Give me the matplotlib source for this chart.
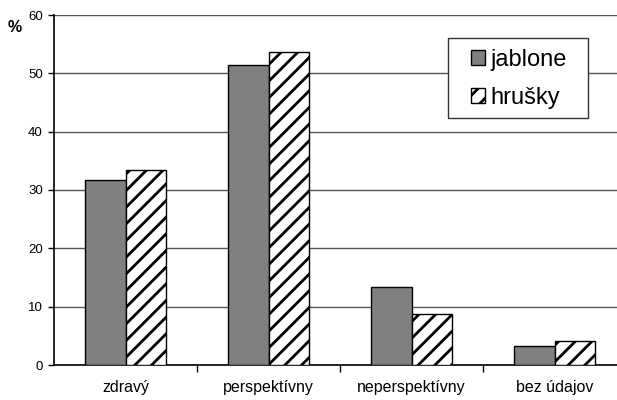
import matplotlib
matplotlib.use('Agg')
import matplotlib.pyplot as plt
from matplotlib.patches import Rectangle
import numpy as np

categories = ['zdravý', 'perspektívny', 'neperspektívny', 'bez údajov']
jablone = [31.8, 51.4, 13.4, 3.3]
hrusky = [33.4, 53.7, 8.7, 4.1]

plt.rcParams['font.family'] = ['Liberation Sans', 'DejaVu Sans']
plt.rcParams['hatch.linewidth'] = 2.0

W, H = 617, 400
fig = plt.figure(figsize=(W / 100, H / 100), dpi=100)
# axes run slightly past the right edge, so no right frame is visible
ax = fig.add_axes([54 / W, 35 / H, 572 / W, 350 / H])

x = np.arange(len(categories))
w = 1 / 3.5
ax.bar(x - w / 2, jablone, w, color='#808080', edgecolor='black', linewidth=1, label='jablone', zorder=3)
ax.bar(x + w / 2, hrusky, w, color='white', edgecolor='black', linewidth=1, hatch='//', label='hrušky', zorder=3)

ax.set_xlim(-0.5, len(categories) - 0.5)
ax.set_ylim(0, 60)
ax.set_yticks(range(0, 61, 10))
ax.yaxis.grid(True, color='#555555', linewidth=1, zorder=0)

# category labels between tick marks
ax.set_xticks(x)
ax.set_xticklabels(categories, fontsize=11.5)
ax.tick_params(axis='x', length=0, pad=11)
ax.set_xticks(np.arange(0.5, len(categories) - 0.5, 1), minor=True)
ax.tick_params(axis='x', which='minor', length=5, direction='out', width=1)
ax.tick_params(axis='y', length=4, direction='out', labelsize=9.5, width=1, pad=4)

for side in ['top', 'right']:
    ax.spines[side].set_visible(False)
ax.spines['left'].set_linewidth(1.2)
ax.spines['bottom'].set_linewidth(1.2)

fig.text(15 / W, 1 - 28 / H, '%', fontsize=11.5, fontweight='bold', ha='center', va='center')

# legend box drawn separately so it can be wider than the entries
box = Rectangle((448 / W, 1 - 118 / H), 140 / W, 80 / H, transform=fig.transFigure,
                facecolor='white', edgecolor='#333333', linewidth=1, zorder=4, clip_on=False)
ax.add_patch(box)
leg = ax.legend(loc='center', fontsize=17, frameon=False,
                handlelength=0.6, handleheight=0.6, handletextpad=0.25,
                labelspacing=0.7, borderpad=0, borderaxespad=0)
leg.set_bbox_to_anchor((519 / W, 1 - 79 / H), transform=fig.transFigure)
leg.set_zorder(5)

fig.savefig('out.png', dpi=100)
